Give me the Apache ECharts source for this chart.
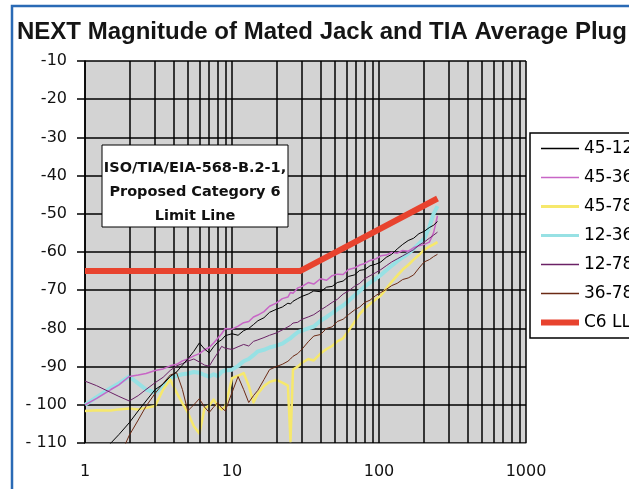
<!DOCTYPE html>
<html>
<head>
<meta charset="utf-8">
<title>NEXT Magnitude of Mated Jack and TIA Average Plug</title>
<script src="https://cdn.jsdelivr.net/npm/echarts@6/dist/echarts.min.js"></script>
<style>
    html, body { margin: 0; padding: 0; background: #fff; }
    #next_chart { width: 629px; height: 489px; }
</style>
</head>
<body>
<div id="next_chart"></div>
<script>

// Chart data
// ------------------------------

// Frequency points, MHz (log x axis)
var freqMHz = [1, 1.2, 1.5, 1.7, 2, 2.3, 2.6, 3, 3.4, 3.8,
    4.2, 4.6, 5, 5.5, 6, 6.5, 7, 7.5, 8, 8.5,
    9, 10, 11, 12, 13, 14, 15, 16.5, 18, 20,
    22, 24, 25, 26, 28, 30, 33, 36, 40, 44,
    48, 52, 57, 62, 68, 74, 80, 87, 95, 103,
    112, 122, 133, 145, 158, 172, 187, 203, 220, 235, 250];

// NEXT per pair combination, dB (null = below the chart)
var pair4512 = [null, -114, -110, -107.8, -104.7, -101.6, -99, -96, -94.6, -92.6,
    -91.4, -89.6, -88, -86, -83.8, -85.4, -86.4, -84.8, -83.6, -83,
    -81.9, -81.4, -81.8, -80.6, -80, -79, -78, -77.2, -75.8, -75,
    -74.4, -73.4, -73.6, -72.9, -72.2, -71.6, -71, -70.2, -70.4, -69.2,
    -69, -68, -67.6, -66.4, -66, -64.8, -64.6, -63.6, -63.2, -62.6,
    -61.4, -60.6, -59.2, -58, -57, -56.4, -55.2, -54.6, -53.6, -53, -52];

var pair4536 = [-100, -98.3, -96, -94.8, -92.6, -92.2, -91.8, -91, -90.6, -89.8,
    -89.4, -88.5, -88, -87.2, -86.6, -85.6, -85, -83.8, -82.6, -81.4,
    -80, -80.2, -79.4, -78.5, -78.2, -77, -76.5, -75.6, -74.2, -73.4,
    -72.2, -71.8, -70.6, -70.8, -69.4, -69, -68, -68.4, -67, -67.4,
    -66.2, -65.8, -65.9, -64.6, -64.2, -63.4, -63, -62.2, -61.8, -61,
    -60.8, -60.1, -60.3, -59.6, -59.8, -58.9, -58.4, -58, -57.4, -55, -50.5];

var pair4578 = [-101.6, -101.4, -101.5, -101.2, -101, -101.2, -100.8, -100.3, -96, -93.4,
    -96.8, -99.6, -102, -105.6, -107.5, -101, -100.2, -98.6, -100.4, -101.2,
    -100.5, -93, -92.4, -91.7, -95, -99.4, -97, -95.1, -94, -93.5,
    -94.2, -95, -109.5, -90.8, -90, -89, -88, -88.4, -86.6, -85.4,
    -84.6, -83.4, -82.6, -80.6, -78.4, -76.2, -74.8, -73.6, -72.4, -71.4,
    -69.6, -67.8, -66.2, -64.6, -63.4, -62, -60.8, -59.4, -58.6, -58, -57.4];

var pair1236 = [-100, -98, -95.6, -94.4, -92.6, -94.4, -96, -96.8, -95, -93,
    -92.4, -92, -91.8, -91.4, -91.6, -92.2, -92.6, -92, -92.5, -91.4,
    -91, -90.8, -89.8, -88.6, -88, -87, -86, -85.6, -85, -84.5,
    -84, -83, -82.6, -82, -81, -80.6, -80, -79.5, -78, -77,
    -76, -75, -74, -72.8, -71.4, -70.2, -69, -68, -67, -66,
    -64.8, -63.6, -62.4, -61.4, -60.4, -59.2, -57.8, -56.5, -53.5, -50, -48];

var pair1278 = [-93.8, -95, -96.8, -97.8, -99, -97.6, -96, -94.2, -92.8, -91,
    -89.8, -89.2, -88.6, -88, -88.8, -89.6, -89.9, -88, -86.4, -84.7,
    -85.2, -85.5, -84.8, -84.2, -84.6, -83.4, -83, -82.4, -81.8, -81.2,
    -80.4, -79.6, -79.2, -78.6, -78.4, -77.6, -77, -76.4, -75.2, -74.2,
    -73.2, -72.4, -71, -70.2, -69, -68.2, -67, -66.2, -65.4, -64.6,
    -63.6, -62.6, -61.8, -61, -60.2, -59.4, -58.2, -57.4, -56.4, -55.6, -54.8];

var pair3678 = [null, null, null, -114, -108, -104, -100.4, -97, -94.4, -92.2,
    -91.6, -96, -101.6, -100, -98.4, -100.6, -102, -100.6, -99.4, -100.8,
    -101.6, -96.8, -92.6, -96, -99.4, -97.6, -96.2, -93.4, -90.8, -90,
    -89.4, -88.6, -88, -87.3, -86.6, -85.4, -83.5, -82, -81.6, -80,
    -79.6, -78.2, -77.6, -76.4, -75.2, -74.4, -73.2, -72.6, -71.4, -70.6,
    -69.8, -68.8, -68.2, -67.2, -66.8, -66, -64.2, -62.6, -62, -61.2, -60.6];

// Proposed Category 6 limit line
var limitFreq = [1, 29, 250];
var limitValues = [-65, -65, -46];

// Minor vertical grid lines of the log axis
var minorGridFreq = [2, 3, 4, 5, 6, 7, 8, 9,
    20, 30, 40, 50, 60, 70, 80, 90,
    200, 300, 400, 500, 600, 700, 800, 900];

var legendNames = ['45-12', '45-36', '45-78', '12-36', '12-78', '36-78', 'C6 LL'];


// Setup module
// ------------------------------

var NextMagnitudeChart = function() {

    var chartFont = '"DejaVu Sans", sans-serif';

    // legend swatch widths, by series name
    var legendWidths = { '45-78': 3, '12-36': 3, 'C6 LL': 6 };

    // Pair values with their frequency, skip the points below the chart
    var toPoints = function(xs, ys) {
        var points = [];
        for (var i = 0; i < xs.length; i++) {
            if (ys[i] !== null) {
                points.push([xs[i], ys[i]]);
            }
        }
        return points;
    };

    var pairSeries = function(name, xs, values, color, width, z) {
        return {
            name: name,
            type: 'line',
            data: toPoints(xs, values),
            symbol: 'none',
            showSymbol: false,
            silent: true,
            z: z,
            itemStyle: { color: color },
            lineStyle: { color: color, width: width, join: 'round' }
        };
    };

    var _nextChart = function() {
        if (typeof echarts == 'undefined') {
            console.warn('Warning - echarts.min.js is not loaded.');
            return;
        }

        var chart_element = document.getElementById('next_chart');
        if (!chart_element) {
            return;
        }

        var next_chart = echarts.init(chart_element);

        var noteLines = ['ISO/TIA/EIA-568-B.2-1,', 'Proposed Category 6', 'Limit Line'];

        var options = {
            animation: false,
            backgroundColor: '#fff',

            title: {
                text: 'NEXT Magnitude of Mated Jack and TIA Average Plug',
                left: 17,
                top: 20,
                padding: 0,
                textStyle: {
                    fontFamily: '"Liberation Sans", Arial, sans-serif',
                    fontSize: 24,
                    fontWeight: 'bold',
                    color: '#151515'
                }
            },

            legend: {
                data: legendNames.map(function(name) {
                    return { name: name, lineStyle: { width: legendWidths[name] || 1.5 } };
                }),
                orient: 'vertical',
                left: 530,
                top: 133,
                itemWidth: 38,
                itemHeight: 14,
                itemGap: 12,
                padding: [7, 30, 7, 8],
                backgroundColor: '#fff',
                borderColor: '#000',
                borderWidth: 1.5,
                borderRadius: 0,
                itemStyle: { opacity: 0 },
                textStyle: {
                    fontFamily: chartFont,
                    fontSize: 17,
                    color: '#000'
                }
            },

            grid: {
                left: 85,
                top: 61,
                width: 441,
                height: 382,
                show: true,
                backgroundColor: '#d3d3d3',
                borderWidth: 0,
                containLabel: false,
                outerBoundsMode: 'none'
            },

            xAxis: {
                type: 'log',
                logBase: 10,
                min: 1,
                max: 1000,
                axisLine: { show: true, lineStyle: { color: '#8c8c8c', width: 1 } },
                axisTick: { show: false },
                axisLabel: {
                    margin: 21,
                    fontFamily: chartFont,
                    fontSize: 16,
                    color: '#111',
                    formatter: function(v) {
                        return String(v);
                    }
                },
                splitLine: { show: true, lineStyle: { color: '#000', width: 1.5 } }
            },

            yAxis: {
                type: 'value',
                min: -110,
                max: -10,
                interval: 10,
                axisLine: { show: true, lineStyle: { color: '#000', width: 1.5 } },
                axisTick: { show: true, inside: false, length: 8, lineStyle: { color: '#000', width: 1.5 } },
                axisLabel: {
                    margin: 18,
                    fontFamily: chartFont,
                    fontSize: 16,
                    color: '#111',
                    formatter: function(v) {
                        return v <= -100 ? '- ' + Math.abs(v) : String(v);
                    }
                },
                splitLine: { show: true, lineStyle: { color: '#000', width: 1.5 } }
            },

            series: [
                // minor log grid lines
                {
                    name: 'grid',
                    type: 'line',
                    data: [],
                    z: 1,
                    silent: true,
                    markLine: {
                        silent: true,
                        symbol: ['none', 'none'],
                        label: { show: false },
                        lineStyle: { color: '#000', width: 1.5, type: 'solid' },
                        data: minorGridFreq.map(function(f) { return { xAxis: f }; })
                    }
                },
                pairSeries('12-36', freqMHz, pair1236, '#97e1e4', 4, 3),
                pairSeries('45-78', freqMHz, pair4578, '#f6e86c', 2.5, 4),
                pairSeries('45-36', freqMHz, pair4536, '#c866c6', 1.5, 5),
                pairSeries('12-78', freqMHz, pair1278, '#6b2266', 1, 6),
                pairSeries('36-78', freqMHz, pair3678, '#6b2a14', 1, 7),
                pairSeries('45-12', freqMHz, pair4512, '#000000', 1, 8),
                pairSeries('C6 LL', limitFreq, limitValues, '#e8432e', 6, 10)
            ],

            graphic: [
                // page frame
                {
                    type: 'polyline',
                    silent: true,
                    shape: { points: [[12, 489], [12, 6], [629, 6]] },
                    style: { stroke: '#2a6ab5', lineWidth: 2.5, fill: null }
                },
                // limit line note
                {
                    type: 'rect',
                    silent: true,
                    shape: { x: 102, y: 145, width: 186, height: 82 },
                    style: { fill: '#fff', stroke: '#000', lineWidth: 1 },
                    z: 20
                }
            ].concat(noteLines.map(function(line, i) {
                return {
                    type: 'text',
                    silent: true,
                    z: 21,
                    x: 195,
                    y: 168 + i * 24,
                    style: {
                        text: line,
                        font: 'bold 14.5px "DejaVu Sans", sans-serif',
                        fill: '#111',
                        textAlign: 'center',
                        textVerticalAlign: 'middle'
                    }
                };
            }))
        };

        next_chart.setOption(options);

        window.addEventListener('resize', function() {
            next_chart.resize();
        });
    };

    return {
        init: function() {
            _nextChart();
        }
    };
}();


// Initialize module
// ------------------------------

document.addEventListener('DOMContentLoaded', function() {
    NextMagnitudeChart.init();
});
</script>
</body>
</html>
